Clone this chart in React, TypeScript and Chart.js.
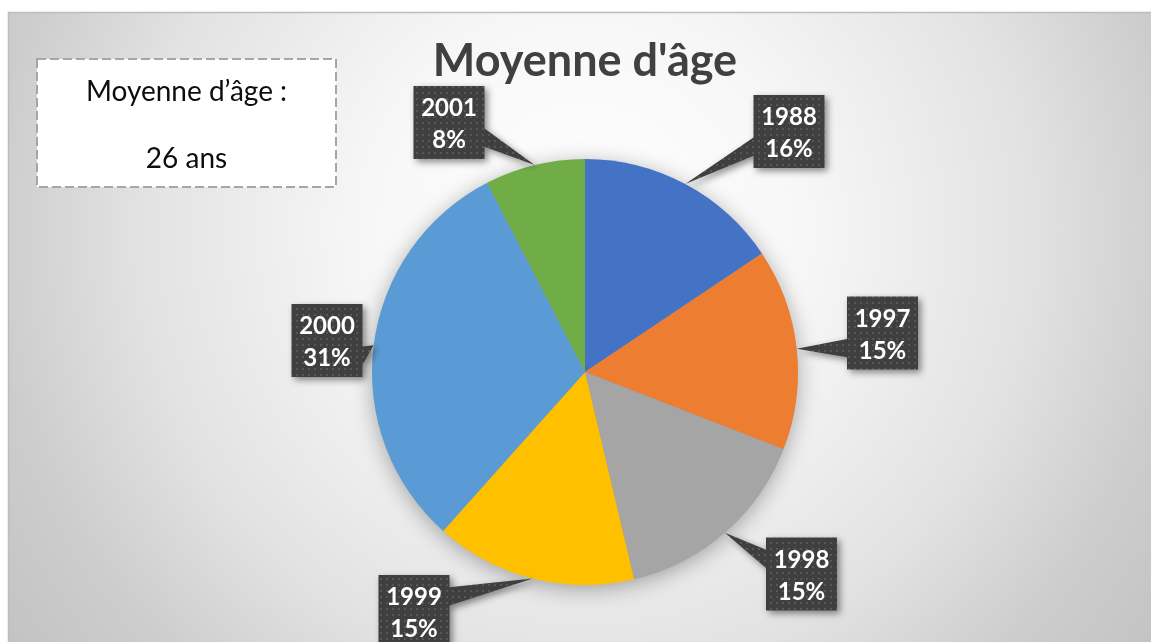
import React, { useEffect, useRef } from "react";
import { Chart, registerables } from "chart.js";

Chart.register(...registerables);

// ---- data ----
const categories: string[] = ["1988", "1997", "1998", "1999", "2000", "2001"];
const values: number[] = [15.6, 15.3, 15.4, 15.3, 30.8, 7.6];
const sliceColors: string[] = ["#4472C4", "#ED7D31", "#A5A5A5", "#FFC000", "#5B9BD5", "#70AD47"];
const titleText = "Moyenne d'âge";
const noteLines: string[] = ["Moyenne d’âge :", "26 ans"];

// ---- layout (positions of the callout boxes, relative to pie centre) ----
const calloutOffsets: number[][] = [
  [204, -240.5],
  [297.5, -39],
  [216.5, 202],
  [-171, 239.5],
  [-258, -31.5],
  [-136, -249.5],
];
const BOX_W = 71;
const BOX_H = 73;
const W = 1151;
const H = 642;

function makePattern(ctx: CanvasRenderingContext2D): CanvasPattern | string {
  const c = document.createElement("canvas");
  c.width = 6;
  c.height = 6;
  const p = c.getContext("2d");
  if (!p) return "#404040";
  p.fillStyle = "#3f3f3f";
  p.fillRect(0, 0, 6, 6);
  p.fillStyle = "#575757";
  p.fillRect(2, 2, 2, 2);
  return ctx.createPattern(c, "repeat") || "#404040";
}

const decorPlugin = {
  id: "decor",
  beforeDraw(chart: any) {
    const ctx: CanvasRenderingContext2D = chart.ctx;
    ctx.save();
    ctx.fillStyle = "#ffffff";
    ctx.fillRect(0, 0, W, H);
    // frame background (radial gradient)
    const g = ctx.createRadialGradient(585, 230, 0, 585, 230, 720);
    g.addColorStop(0, "#ffffff");
    g.addColorStop(0.3, "#f7f7f7");
    g.addColorStop(0.62, "#e2e2e2");
    g.addColorStop(0.82, "#cdcdcd");
    g.addColorStop(1, "#c2c2c2");
    ctx.fillStyle = g;
    ctx.fillRect(8, 12, W - 8, H - 12);
    ctx.strokeStyle = "#bdbdbd";
    ctx.lineWidth = 1.5;
    ctx.beginPath();
    ctx.moveTo(8.5, H);
    ctx.lineTo(8.5, 12.5);
    ctx.lineTo(W, 12.5);
    ctx.stroke();

    // title
    ctx.fillStyle = "#404040";
    ctx.font = "bold 45px Lato, 'Open Sans', sans-serif";
    ctx.textAlign = "center";
    ctx.textBaseline = "alphabetic";
    ctx.fillText(titleText, 585, 76);

    // note box
    ctx.fillStyle = "#ffffff";
    ctx.fillRect(37, 59, 299, 128);
    ctx.setLineDash([9, 4]);
    ctx.strokeStyle = "#a6a6a6";
    ctx.lineWidth = 2;
    ctx.strokeRect(37, 59, 299, 128);
    ctx.setLineDash([]);
    ctx.fillStyle = "#0d0d0d";
    ctx.font = "28px Lato, 'Open Sans', sans-serif";
    ctx.fillText(noteLines[0], 186.5, 101);
    ctx.fillText(noteLines[1], 186.5, 168);
    ctx.restore();
  },
  beforeDatasetsDraw(chart: any) {
    const meta = chart.getDatasetMeta(0);
    const arc = meta.data[0];
    if (!arc) return;
    const ctx: CanvasRenderingContext2D = chart.ctx;
    ctx.save();
    ctx.shadowColor = "rgba(0,0,0,0.35)";
    ctx.shadowBlur = 22;
    ctx.shadowOffsetY = 4;
    ctx.fillStyle = "#999999";
    ctx.beginPath();
    ctx.arc(arc.x, arc.y, arc.outerRadius - 1, 0, Math.PI * 2);
    ctx.fill();
    ctx.restore();
  },
  afterDatasetsDraw(chart: any) {
    const ctx: CanvasRenderingContext2D = chart.ctx;
    const meta = chart.getDatasetMeta(0);
    const data: number[] = chart.data.datasets[0].data;
    const total = data.reduce((a, b) => a + b, 0);
    const pattern = makePattern(ctx);
    meta.data.forEach((arc: any, i: number) => {
      const mid = (arc.startAngle + arc.endAngle) / 2;
      const tx = arc.x + arc.outerRadius * Math.cos(mid);
      const ty = arc.y + arc.outerRadius * Math.sin(mid);
      const cx = arc.x + calloutOffsets[i][0];
      const cy = arc.y + calloutOffsets[i][1];
      const left = cx - BOX_W / 2;
      const top = cy - BOX_H / 2;
      const right = left + BOX_W;
      const bottom = top + BOX_H;
      const dx = tx - cx;
      const dy = ty - cy;
      ctx.save();
      ctx.beginPath();
      if (Math.abs(dx) / BOX_W > Math.abs(dy) / BOX_H) {
        const y1 = dy < 0 ? top + (BOX_H * 2) / 12 : top + (BOX_H * 7) / 12;
        const y2 = dy < 0 ? top + (BOX_H * 5) / 12 : top + (BOX_H * 10) / 12;
        if (dx < 0) {
          ctx.moveTo(left, top);
          ctx.lineTo(right, top);
          ctx.lineTo(right, bottom);
          ctx.lineTo(left, bottom);
          ctx.lineTo(left, y2);
          ctx.lineTo(tx, ty);
          ctx.lineTo(left, y1);
        } else {
          ctx.moveTo(left, top);
          ctx.lineTo(right, top);
          ctx.lineTo(right, y1);
          ctx.lineTo(tx, ty);
          ctx.lineTo(right, y2);
          ctx.lineTo(right, bottom);
          ctx.lineTo(left, bottom);
        }
      } else {
        const x1 = dx < 0 ? left + (BOX_W * 2) / 12 : left + (BOX_W * 7) / 12;
        const x2 = dx < 0 ? left + (BOX_W * 5) / 12 : left + (BOX_W * 10) / 12;
        if (dy < 0) {
          ctx.moveTo(left, top);
          ctx.lineTo(x1, top);
          ctx.lineTo(tx, ty);
          ctx.lineTo(x2, top);
          ctx.lineTo(right, top);
          ctx.lineTo(right, bottom);
          ctx.lineTo(left, bottom);
        } else {
          ctx.moveTo(left, top);
          ctx.lineTo(right, top);
          ctx.lineTo(right, bottom);
          ctx.lineTo(x2, bottom);
          ctx.lineTo(tx, ty);
          ctx.lineTo(x1, bottom);
          ctx.lineTo(left, bottom);
        }
      }
      ctx.closePath();
      ctx.shadowColor = "rgba(0,0,0,0.45)";
      ctx.shadowBlur = 7;
      ctx.shadowOffsetX = 3;
      ctx.shadowOffsetY = 3;
      ctx.fillStyle = pattern as any;
      ctx.fill();
      ctx.restore();

      ctx.save();
      ctx.fillStyle = "#ffffff";
      ctx.font = "bold 24px Lato, 'Open Sans', sans-serif";
      ctx.textAlign = "center";
      ctx.textBaseline = "alphabetic";
      const pct = Math.round((data[i] / total) * 100) + "%";
      ctx.fillText(String(chart.data.labels[i]), cx, top + 30);
      ctx.fillText(pct, cx, top + 62);
      ctx.restore();
    });
  },
};

export default function App() {
  const ref = useRef<HTMLCanvasElement | null>(null);
  useEffect(() => {
    if (!ref.current) return;
    const chart = new Chart(ref.current, {
      type: "pie",
      data: {
        labels: categories,
        datasets: [
          {
            data: values,
            backgroundColor: sliceColors,
            borderWidth: 0,
            hoverOffset: 0,
          },
        ],
      },
      options: {
        responsive: false,
        animation: false,
        events: [],
        layout: { padding: { left: 372, right: 353, top: 159, bottom: 57 } },
        plugins: {
          legend: { display: false },
          tooltip: { enabled: false },
          title: { display: false },
        },
      },
      plugins: [decorPlugin],
    });
    return () => chart.destroy();
  }, []);
  return (
    <div style={{ position: "fixed", left: 0, top: 0, width: W, height: H }}>
      <canvas ref={ref} width={W} height={H} style={{ display: "block", width: W, height: H }} />
    </div>
  );
}
